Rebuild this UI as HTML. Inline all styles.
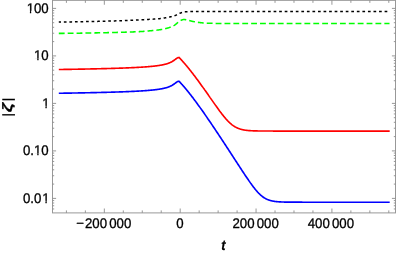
<!DOCTYPE html>
<html><head><meta charset="utf-8"><title>plot</title>
<style>html,body{margin:0;padding:0;background:#fff;overflow:hidden}svg{display:block;will-change:transform}</style>
</head><body>
<svg width="399" height="253" viewBox="0 0 399 253">
<rect width="399" height="253" fill="#fff"/>
<g fill="none" stroke-linejoin="round">
<path d="M58.80 93.27 L59.20 93.26 L59.60 93.25 L60.01 93.25 L60.41 93.24 L60.81 93.24 L61.21 93.23 L61.61 93.22 L62.02 93.22 L62.42 93.21 L62.82 93.20 L63.22 93.20 L63.62 93.19 L64.03 93.18 L64.43 93.18 L64.83 93.17 L65.23 93.16 L65.63 93.16 L66.04 93.15 L66.44 93.14 L66.84 93.14 L67.24 93.13 L67.64 93.12 L68.05 93.12 L68.45 93.11 L68.85 93.10 L69.25 93.10 L69.65 93.09 L70.06 93.08 L70.46 93.08 L70.86 93.07 L71.26 93.06 L71.66 93.06 L72.07 93.05 L72.47 93.04 L72.87 93.04 L73.27 93.03 L73.67 93.02 L74.08 93.01 L74.48 93.01 L74.88 93.00 L75.28 92.99 L75.68 92.99 L76.09 92.98 L76.49 92.97 L76.89 92.96 L77.29 92.96 L77.69 92.95 L78.10 92.94 L78.50 92.93 L78.90 92.93 L79.30 92.92 L79.70 92.91 L80.11 92.90 L80.51 92.90 L80.91 92.89 L81.31 92.88 L81.71 92.87 L82.12 92.87 L82.52 92.86 L82.92 92.85 L83.32 92.84 L83.72 92.83 L84.13 92.83 L84.53 92.82 L84.93 92.81 L85.33 92.80 L85.73 92.79 L86.14 92.79 L86.54 92.78 L86.94 92.77 L87.34 92.76 L87.74 92.75 L88.15 92.74 L88.55 92.74 L88.95 92.73 L89.35 92.72 L89.75 92.71 L90.16 92.70 L90.56 92.69 L90.96 92.69 L91.36 92.68 L91.76 92.67 L92.17 92.66 L92.57 92.65 L92.97 92.64 L93.37 92.63 L93.77 92.62 L94.18 92.61 L94.58 92.61 L94.98 92.60 L95.38 92.59 L95.78 92.58 L96.19 92.57 L96.59 92.56 L96.99 92.55 L97.39 92.54 L97.79 92.53 L98.20 92.52 L98.60 92.51 L99.00 92.50 L99.40 92.49 L99.80 92.48 L100.21 92.47 L100.61 92.46 L101.01 92.45 L101.41 92.44 L101.81 92.43 L102.22 92.42 L102.62 92.41 L103.02 92.40 L103.42 92.39 L103.82 92.38 L104.23 92.37 L104.63 92.36 L105.03 92.35 L105.43 92.34 L105.83 92.33 L106.24 92.32 L106.64 92.31 L107.04 92.30 L107.44 92.29 L107.84 92.28 L108.25 92.27 L108.65 92.25 L109.05 92.24 L109.45 92.23 L109.85 92.22 L110.26 92.21 L110.66 92.20 L111.06 92.19 L111.46 92.17 L111.86 92.16 L112.27 92.15 L112.67 92.14 L113.07 92.13 L113.47 92.11 L113.87 92.10 L114.28 92.09 L114.68 92.08 L115.08 92.06 L115.48 92.05 L115.88 92.04 L116.29 92.03 L116.69 92.01 L117.09 92.00 L117.49 91.99 L117.89 91.97 L118.30 91.96 L118.70 91.95 L119.10 91.93 L119.50 91.92 L119.91 91.91 L120.31 91.89 L120.71 91.88 L121.11 91.86 L121.51 91.85 L121.92 91.84 L122.32 91.82 L122.72 91.81 L123.12 91.79 L123.52 91.78 L123.93 91.76 L124.33 91.75 L124.73 91.73 L125.13 91.71 L125.53 91.70 L125.94 91.68 L126.34 91.67 L126.74 91.65 L127.14 91.63 L127.54 91.62 L127.95 91.60 L128.35 91.58 L128.75 91.57 L129.15 91.55 L129.55 91.53 L129.96 91.52 L130.36 91.50 L130.76 91.48 L131.16 91.46 L131.56 91.44 L131.97 91.42 L132.37 91.41 L132.77 91.39 L133.17 91.37 L133.57 91.35 L133.98 91.33 L134.38 91.31 L134.78 91.29 L135.18 91.27 L135.58 91.25 L135.99 91.23 L136.39 91.21 L136.79 91.18 L137.19 91.16 L137.59 91.14 L138.00 91.12 L138.40 91.09 L138.80 91.07 L139.20 91.05 L139.60 91.03 L140.01 91.00 L140.41 90.98 L140.81 90.95 L141.21 90.93 L141.61 90.90 L142.02 90.88 L142.42 90.85 L142.82 90.82 L143.22 90.80 L143.62 90.77 L144.03 90.74 L144.43 90.71 L144.83 90.69 L145.23 90.66 L145.63 90.63 L146.04 90.60 L146.44 90.57 L146.84 90.53 L147.24 90.50 L147.64 90.47 L148.05 90.44 L148.45 90.40 L148.85 90.37 L149.25 90.34 L149.65 90.30 L150.06 90.26 L150.46 90.23 L150.86 90.19 L151.26 90.15 L151.66 90.11 L152.07 90.07 L152.47 90.03 L152.87 89.99 L153.27 89.95 L153.67 89.90 L154.08 89.86 L154.48 89.81 L154.88 89.77 L155.28 89.72 L155.68 89.67 L156.09 89.62 L156.49 89.57 L156.89 89.52 L157.29 89.46 L157.69 89.41 L158.10 89.35 L158.50 89.29 L158.90 89.23 L159.30 89.17 L159.70 89.10 L160.11 89.04 L160.51 88.97 L160.91 88.90 L161.31 88.83 L161.71 88.75 L162.12 88.68 L162.52 88.60 L162.92 88.51 L163.32 88.43 L163.72 88.34 L164.13 88.25 L164.53 88.15 L164.93 88.05 L165.33 87.95 L165.73 87.84 L166.14 87.73 L166.54 87.62 L166.94 87.49 L167.34 87.37 L167.74 87.23 L168.15 87.10 L168.55 86.95 L168.95 86.80 L169.35 86.64 L169.75 86.47 L170.16 86.30 L170.56 86.11 L170.96 85.92 L171.36 85.71 L171.76 85.50 L172.17 85.27 L172.57 85.03 L172.97 84.78 L173.37 84.52 L173.77 84.25 L174.18 83.96 L174.58 83.67 L174.98 83.37 L175.38 83.07 L175.78 82.76 L176.19 82.46 L176.59 82.18 L176.99 81.91 L177.39 81.67 L177.79 81.48 L178.20 81.33 L178.60 81.23 L179.00 81.20 L179.35 81.57 L179.70 81.94 L180.06 82.32 L180.41 82.70 L180.76 83.08 L181.11 83.47 L181.46 83.85 L181.81 84.25 L182.17 84.64 L182.52 85.04 L182.87 85.44 L183.22 85.84 L183.57 86.25 L183.92 86.65 L184.28 87.06 L184.63 87.48 L184.98 87.89 L185.33 88.31 L185.68 88.73 L186.04 89.15 L186.39 89.58 L186.74 90.01 L187.09 90.44 L187.44 90.87 L187.79 91.30 L188.15 91.74 L188.50 92.18 L188.85 92.62 L189.20 93.06 L189.55 93.51 L189.90 93.95 L190.26 94.40 L190.61 94.85 L190.96 95.31 L191.31 95.76 L191.66 96.22 L192.01 96.67 L192.37 97.13 L192.72 97.59 L193.07 98.06 L193.42 98.52 L193.77 98.99 L194.13 99.45 L194.48 99.92 L194.83 100.39 L195.18 100.87 L195.53 101.34 L195.88 101.82 L196.24 102.29 L196.59 102.77 L196.94 103.25 L197.29 103.73 L197.64 104.21 L197.99 104.70 L198.35 105.18 L198.70 105.67 L199.05 106.15 L199.40 106.64 L199.75 107.13 L200.11 107.62 L200.46 108.11 L200.81 108.61 L201.16 109.10 L201.51 109.60 L201.86 110.09 L202.22 110.59 L202.57 111.09 L202.92 111.59 L203.27 112.09 L203.62 112.59 L203.97 113.09 L204.33 113.59 L204.68 114.10 L205.03 114.60 L205.38 115.11 L205.73 115.62 L206.08 116.12 L206.44 116.63 L206.79 117.14 L207.14 117.65 L207.49 118.16 L207.84 118.68 L208.20 119.19 L208.55 119.70 L208.90 120.22 L209.25 120.73 L209.60 121.25 L209.95 121.76 L210.31 122.28 L210.66 122.80 L211.01 123.32 L211.36 123.84 L211.71 124.36 L212.06 124.88 L212.42 125.40 L212.77 125.92 L213.12 126.44 L213.47 126.96 L213.82 127.49 L214.18 128.01 L214.53 128.54 L214.88 129.06 L215.23 129.59 L215.58 130.11 L215.93 130.64 L216.29 131.17 L216.64 131.69 L216.99 132.22 L217.34 132.75 L217.69 133.28 L218.04 133.81 L218.40 134.34 L218.75 134.87 L219.10 135.40 L219.45 135.93 L219.80 136.46 L220.16 137.00 L220.51 137.53 L220.86 138.06 L221.21 138.60 L221.56 139.13 L221.91 139.66 L222.27 140.20 L222.62 140.73 L222.97 141.27 L223.32 141.80 L223.67 142.34 L224.02 142.88 L224.38 143.41 L224.73 143.95 L225.08 144.49 L225.43 145.02 L225.78 145.56 L226.13 146.10 L226.49 146.64 L226.84 147.18 L227.19 147.71 L227.54 148.25 L227.89 148.79 L228.25 149.33 L228.60 149.87 L228.95 150.41 L229.30 150.95 L229.65 151.49 L230.00 152.03 L230.36 152.57 L230.71 153.11 L231.06 153.65 L231.41 154.19 L231.76 154.74 L232.11 155.28 L232.47 155.82 L232.82 156.36 L233.17 156.90 L233.52 157.44 L233.87 157.98 L234.23 158.52 L234.58 159.07 L234.93 159.61 L235.28 160.15 L235.63 160.69 L235.98 161.23 L236.34 161.77 L236.69 162.31 L237.04 162.85 L237.39 163.40 L237.74 163.94 L238.09 164.48 L238.45 165.02 L238.80 165.56 L239.15 166.10 L239.50 166.63 L239.85 167.17 L240.21 167.71 L240.56 168.25 L240.91 168.79 L241.26 169.32 L241.61 169.86 L241.96 170.40 L242.32 170.93 L242.67 171.46 L243.02 172.00 L243.37 172.53 L243.72 173.06 L244.07 173.59 L244.43 174.12 L244.78 174.65 L245.13 175.18 L245.48 175.70 L245.83 176.23 L246.18 176.75 L246.54 177.27 L246.89 177.79 L247.24 178.31 L247.59 178.82 L247.94 179.34 L248.30 179.85 L248.65 180.36 L249.00 180.87 L249.35 181.37 L249.70 181.87 L250.05 182.37 L250.41 182.87 L250.76 183.36 L251.11 183.85 L251.46 184.33 L251.81 184.81 L252.16 185.29 L252.52 185.76 L252.87 186.23 L253.22 186.70 L253.57 187.16 L253.92 187.61 L254.28 188.06 L254.63 188.50 L254.98 188.94 L255.33 189.38 L255.68 189.80 L256.03 190.22 L256.39 190.63 L256.74 191.04 L257.09 191.44 L257.44 191.83 L257.79 192.22 L258.14 192.59 L258.50 192.96 L258.85 193.33 L259.20 193.68 L259.55 194.02 L259.90 194.36 L260.25 194.69 L260.61 195.01 L260.96 195.32 L261.31 195.62 L261.66 195.91 L262.01 196.20 L262.37 196.47 L262.72 196.74 L263.07 196.99 L263.42 197.24 L263.77 197.48 L264.12 197.71 L264.48 197.94 L264.83 198.15 L265.18 198.35 L265.53 198.55 L265.88 198.74 L266.23 198.92 L266.59 199.09 L266.94 199.26 L267.29 199.42 L267.64 199.57 L267.99 199.71 L268.35 199.85 L268.70 199.98 L269.05 200.10 L269.40 200.22 L269.75 200.33 L270.10 200.44 L270.46 200.54 L270.81 200.63 L271.16 200.72 L271.51 200.81 L271.86 200.89 L272.21 200.97 L272.57 201.04 L272.92 201.11 L273.27 201.17 L273.62 201.23 L273.97 201.29 L274.33 201.35 L274.68 201.40 L275.03 201.45 L275.38 201.49 L275.73 201.53 L276.08 201.57 L276.44 201.61 L276.79 201.65 L277.14 201.68 L277.49 201.71 L277.84 201.74 L278.19 201.77 L278.55 201.80 L278.90 201.82 L279.25 201.85 L279.60 201.87 L279.95 201.89 L280.30 201.91 L280.66 201.93 L281.01 201.94 L281.36 201.96 L281.71 201.97 L282.06 201.99 L282.42 202.00 L282.77 202.01 L283.12 202.02 L283.47 202.04 L283.82 202.05 L284.17 202.06 L284.53 202.06 L284.88 202.07 L285.23 202.08 L285.58 202.09 L285.93 202.10 L286.28 202.10 L286.64 202.11 L286.99 202.11 L287.34 202.12 L287.69 202.12 L288.04 202.13 L288.40 202.13 L288.75 202.14 L289.10 202.14 L289.45 202.15 L289.80 202.15 L290.15 202.15 L290.51 202.15 L290.86 202.16 L291.21 202.16 L291.56 202.16 L291.91 202.17 L292.26 202.17 L292.62 202.17 L292.97 202.17 L293.32 202.17 L293.67 202.17 L294.02 202.18 L294.37 202.18 L294.73 202.18 L295.08 202.18 L295.43 202.18 L295.78 202.18 L296.13 202.18 L296.49 202.19 L296.84 202.19 L297.19 202.19 L297.54 202.19 L297.89 202.19 L298.24 202.19 L298.60 202.19 L298.95 202.19 L299.30 202.19 L299.65 202.19 L300.00 202.19 L300.35 202.19 L300.71 202.19 L301.06 202.19 L301.41 202.19 L301.76 202.19 L302.11 202.19 L302.47 202.20 L302.82 202.20 L303.17 202.20 L303.52 202.20 L303.87 202.20 L304.22 202.20 L304.58 202.20 L304.93 202.20 L305.28 202.20 L305.63 202.20 L305.98 202.20 L306.33 202.20 L306.69 202.20 L307.04 202.20 L307.39 202.20 L307.74 202.20 L308.09 202.20 L308.45 202.20 L308.80 202.20 L309.15 202.20 L309.50 202.20 L309.85 202.20 L310.20 202.20 L310.56 202.20 L310.91 202.20 L311.26 202.20 L311.61 202.20 L311.96 202.20 L312.31 202.20 L312.67 202.20 L313.02 202.20 L313.37 202.20 L313.72 202.20 L314.07 202.20 L314.42 202.20 L314.78 202.20 L315.13 202.20 L315.48 202.20 L315.83 202.20 L316.18 202.20 L316.54 202.20 L316.89 202.20 L317.24 202.20 L317.59 202.20 L317.94 202.20 L318.29 202.20 L318.65 202.20 L319.00 202.20 L319.35 202.20 L319.70 202.20 L320.05 202.20 L320.40 202.20 L320.76 202.20 L321.11 202.20 L321.46 202.20 L321.81 202.20 L322.16 202.20 L322.52 202.20 L322.87 202.20 L323.22 202.20 L323.57 202.20 L323.92 202.20 L324.27 202.20 L324.63 202.20 L324.98 202.20 L325.33 202.20 L325.68 202.20 L326.03 202.20 L326.38 202.20 L326.74 202.20 L327.09 202.20 L327.44 202.20 L327.79 202.20 L328.14 202.20 L328.49 202.20 L328.85 202.20 L329.20 202.20 L329.55 202.20 L329.90 202.20 L330.25 202.20 L330.61 202.20 L330.96 202.20 L331.31 202.20 L331.66 202.20 L332.01 202.20 L332.36 202.20 L332.72 202.20 L333.07 202.20 L333.42 202.20 L333.77 202.20 L334.12 202.20 L334.47 202.20 L334.83 202.20 L335.18 202.20 L335.53 202.20 L335.88 202.20 L336.23 202.20 L336.59 202.20 L336.94 202.20 L337.29 202.20 L337.64 202.20 L337.99 202.20 L338.34 202.20 L338.70 202.20 L339.05 202.20 L339.40 202.20 L339.75 202.20 L340.10 202.20 L340.45 202.20 L340.81 202.20 L341.16 202.20 L341.51 202.20 L341.86 202.20 L342.21 202.20 L342.57 202.20 L342.92 202.20 L343.27 202.20 L343.62 202.20 L343.97 202.20 L344.32 202.20 L344.68 202.20 L345.03 202.20 L345.38 202.20 L345.73 202.20 L346.08 202.20 L346.43 202.20 L346.79 202.20 L347.14 202.20 L347.49 202.20 L347.84 202.20 L348.19 202.20 L348.54 202.20 L348.90 202.20 L349.25 202.20 L349.60 202.20 L349.95 202.20 L350.30 202.20 L350.66 202.20 L351.01 202.20 L351.36 202.20 L351.71 202.20 L352.06 202.20 L352.41 202.20 L352.77 202.20 L353.12 202.20 L353.47 202.20 L353.82 202.20 L354.17 202.20 L354.52 202.20 L354.88 202.20 L355.23 202.20 L355.58 202.20 L355.93 202.20 L356.28 202.20 L356.64 202.20 L356.99 202.20 L357.34 202.20 L357.69 202.20 L358.04 202.20 L358.39 202.20 L358.75 202.20 L359.10 202.20 L359.45 202.20 L359.80 202.20 L360.15 202.20 L360.50 202.20 L360.86 202.20 L361.21 202.20 L361.56 202.20 L361.91 202.20 L362.26 202.20 L362.62 202.20 L362.97 202.20 L363.32 202.20 L363.67 202.20 L364.02 202.20 L364.37 202.20 L364.73 202.20 L365.08 202.20 L365.43 202.20 L365.78 202.20 L366.13 202.20 L366.48 202.20 L366.84 202.20 L367.19 202.20 L367.54 202.20 L367.89 202.20 L368.24 202.20 L368.59 202.20 L368.95 202.20 L369.30 202.20 L369.65 202.20 L370.00 202.20 L370.35 202.20 L370.71 202.20 L371.06 202.20 L371.41 202.20 L371.76 202.20 L372.11 202.20 L372.46 202.20 L372.82 202.20 L373.17 202.20 L373.52 202.20 L373.87 202.20 L374.22 202.20 L374.57 202.20 L374.93 202.20 L375.28 202.20 L375.63 202.20 L375.98 202.20 L376.33 202.20 L376.69 202.20 L377.04 202.20 L377.39 202.20 L377.74 202.20 L378.09 202.20 L378.44 202.20 L378.80 202.20 L379.15 202.20 L379.50 202.20 L379.85 202.20 L380.20 202.20 L380.55 202.20 L380.91 202.20 L381.26 202.20 L381.61 202.20 L381.96 202.20 L382.31 202.20 L382.66 202.20 L383.02 202.20 L383.37 202.20 L383.72 202.20 L384.07 202.20 L384.42 202.20 L384.78 202.20 L385.13 202.20 L385.48 202.20 L385.83 202.20 L386.18 202.20 L386.53 202.20 L386.89 202.20 L387.24 202.20 L387.59 202.20 L387.94 202.20 L388.29 202.20 L388.64 202.20 L389.00 202.20 L389.35 202.20 L389.70 202.20" stroke="#0000ff" stroke-width="1.65"/>
<path d="M58.80 69.52 L59.20 69.51 L59.60 69.50 L60.01 69.50 L60.41 69.49 L60.81 69.49 L61.21 69.48 L61.61 69.47 L62.02 69.47 L62.42 69.46 L62.82 69.45 L63.22 69.45 L63.62 69.44 L64.03 69.43 L64.43 69.43 L64.83 69.42 L65.23 69.41 L65.63 69.41 L66.04 69.40 L66.44 69.39 L66.84 69.39 L67.24 69.38 L67.64 69.37 L68.05 69.37 L68.45 69.36 L68.85 69.35 L69.25 69.35 L69.65 69.34 L70.06 69.33 L70.46 69.33 L70.86 69.32 L71.26 69.31 L71.66 69.31 L72.07 69.30 L72.47 69.29 L72.87 69.29 L73.27 69.28 L73.67 69.27 L74.08 69.26 L74.48 69.26 L74.88 69.25 L75.28 69.24 L75.68 69.24 L76.09 69.23 L76.49 69.22 L76.89 69.21 L77.29 69.21 L77.69 69.20 L78.10 69.19 L78.50 69.18 L78.90 69.18 L79.30 69.17 L79.70 69.16 L80.11 69.15 L80.51 69.15 L80.91 69.14 L81.31 69.13 L81.71 69.12 L82.12 69.12 L82.52 69.11 L82.92 69.10 L83.32 69.09 L83.72 69.08 L84.13 69.08 L84.53 69.07 L84.93 69.06 L85.33 69.05 L85.73 69.04 L86.14 69.04 L86.54 69.03 L86.94 69.02 L87.34 69.01 L87.74 69.00 L88.15 68.99 L88.55 68.99 L88.95 68.98 L89.35 68.97 L89.75 68.96 L90.16 68.95 L90.56 68.94 L90.96 68.94 L91.36 68.93 L91.76 68.92 L92.17 68.91 L92.57 68.90 L92.97 68.89 L93.37 68.88 L93.77 68.87 L94.18 68.86 L94.58 68.86 L94.98 68.85 L95.38 68.84 L95.78 68.83 L96.19 68.82 L96.59 68.81 L96.99 68.80 L97.39 68.79 L97.79 68.78 L98.20 68.77 L98.60 68.76 L99.00 68.75 L99.40 68.74 L99.80 68.73 L100.21 68.72 L100.61 68.71 L101.01 68.70 L101.41 68.69 L101.81 68.68 L102.22 68.67 L102.62 68.66 L103.02 68.65 L103.42 68.64 L103.82 68.63 L104.23 68.62 L104.63 68.61 L105.03 68.60 L105.43 68.59 L105.83 68.58 L106.24 68.57 L106.64 68.56 L107.04 68.55 L107.44 68.54 L107.84 68.53 L108.25 68.52 L108.65 68.50 L109.05 68.49 L109.45 68.48 L109.85 68.47 L110.26 68.46 L110.66 68.45 L111.06 68.44 L111.46 68.42 L111.86 68.41 L112.27 68.40 L112.67 68.39 L113.07 68.38 L113.47 68.36 L113.87 68.35 L114.28 68.34 L114.68 68.33 L115.08 68.31 L115.48 68.30 L115.88 68.29 L116.29 68.28 L116.69 68.26 L117.09 68.25 L117.49 68.24 L117.89 68.22 L118.30 68.21 L118.70 68.20 L119.10 68.18 L119.50 68.17 L119.91 68.16 L120.31 68.14 L120.71 68.13 L121.11 68.11 L121.51 68.10 L121.92 68.09 L122.32 68.07 L122.72 68.06 L123.12 68.04 L123.52 68.03 L123.93 68.01 L124.33 68.00 L124.73 67.98 L125.13 67.96 L125.53 67.95 L125.94 67.93 L126.34 67.92 L126.74 67.90 L127.14 67.88 L127.54 67.87 L127.95 67.85 L128.35 67.83 L128.75 67.82 L129.15 67.80 L129.55 67.78 L129.96 67.77 L130.36 67.75 L130.76 67.73 L131.16 67.71 L131.56 67.69 L131.97 67.67 L132.37 67.66 L132.77 67.64 L133.17 67.62 L133.57 67.60 L133.98 67.58 L134.38 67.56 L134.78 67.54 L135.18 67.52 L135.58 67.50 L135.99 67.48 L136.39 67.46 L136.79 67.43 L137.19 67.41 L137.59 67.39 L138.00 67.37 L138.40 67.34 L138.80 67.32 L139.20 67.30 L139.60 67.28 L140.01 67.25 L140.41 67.23 L140.81 67.20 L141.21 67.18 L141.61 67.15 L142.02 67.13 L142.42 67.10 L142.82 67.07 L143.22 67.05 L143.62 67.02 L144.03 66.99 L144.43 66.96 L144.83 66.94 L145.23 66.91 L145.63 66.88 L146.04 66.85 L146.44 66.82 L146.84 66.78 L147.24 66.75 L147.64 66.72 L148.05 66.69 L148.45 66.65 L148.85 66.62 L149.25 66.59 L149.65 66.55 L150.06 66.51 L150.46 66.48 L150.86 66.44 L151.26 66.40 L151.66 66.36 L152.07 66.32 L152.47 66.28 L152.87 66.24 L153.27 66.20 L153.67 66.15 L154.08 66.11 L154.48 66.06 L154.88 66.02 L155.28 65.97 L155.68 65.92 L156.09 65.87 L156.49 65.82 L156.89 65.77 L157.29 65.71 L157.69 65.66 L158.10 65.60 L158.50 65.54 L158.90 65.48 L159.30 65.42 L159.70 65.35 L160.11 65.29 L160.51 65.22 L160.91 65.15 L161.31 65.08 L161.71 65.00 L162.12 64.93 L162.52 64.85 L162.92 64.76 L163.32 64.68 L163.72 64.59 L164.13 64.50 L164.53 64.40 L164.93 64.30 L165.33 64.20 L165.73 64.09 L166.14 63.98 L166.54 63.87 L166.94 63.74 L167.34 63.62 L167.74 63.48 L168.15 63.35 L168.55 63.20 L168.95 63.05 L169.35 62.89 L169.75 62.72 L170.16 62.55 L170.56 62.36 L170.96 62.17 L171.36 61.96 L171.76 61.75 L172.17 61.52 L172.57 61.28 L172.97 61.03 L173.37 60.77 L173.77 60.50 L174.18 60.21 L174.58 59.92 L174.98 59.62 L175.38 59.32 L175.78 59.01 L176.19 58.71 L176.59 58.43 L176.99 58.16 L177.39 57.92 L177.79 57.73 L178.20 57.58 L178.60 57.48 L179.00 57.45 L179.35 57.81 L179.70 58.17 L180.06 58.54 L180.41 58.91 L180.76 59.28 L181.11 59.66 L181.46 60.04 L181.81 60.42 L182.17 60.81 L182.52 61.19 L182.87 61.59 L183.22 61.98 L183.57 62.38 L183.92 62.78 L184.28 63.18 L184.63 63.58 L184.98 63.99 L185.33 64.40 L185.68 64.82 L186.04 65.23 L186.39 65.65 L186.74 66.07 L187.09 66.49 L187.44 66.92 L187.79 67.35 L188.15 67.78 L188.50 68.21 L188.85 68.64 L189.20 69.08 L189.55 69.52 L189.90 69.96 L190.26 70.40 L190.61 70.84 L190.96 71.29 L191.31 71.74 L191.66 72.19 L192.01 72.64 L192.37 73.09 L192.72 73.55 L193.07 74.00 L193.42 74.46 L193.77 74.92 L194.13 75.39 L194.48 75.85 L194.83 76.31 L195.18 76.78 L195.53 77.25 L195.88 77.72 L196.24 78.19 L196.59 78.66 L196.94 79.14 L197.29 79.61 L197.64 80.09 L197.99 80.57 L198.35 81.05 L198.70 81.53 L199.05 82.01 L199.40 82.49 L199.75 82.97 L200.11 83.46 L200.46 83.94 L200.81 84.43 L201.16 84.92 L201.51 85.41 L201.86 85.90 L202.22 86.39 L202.57 86.88 L202.92 87.37 L203.27 87.87 L203.62 88.36 L203.97 88.86 L204.33 89.35 L204.68 89.85 L205.03 90.35 L205.38 90.84 L205.73 91.34 L206.08 91.84 L206.44 92.34 L206.79 92.84 L207.14 93.34 L207.49 93.84 L207.84 94.34 L208.20 94.84 L208.55 95.35 L208.90 95.85 L209.25 96.35 L209.60 96.85 L209.95 97.36 L210.31 97.86 L210.66 98.36 L211.01 98.86 L211.36 99.37 L211.71 99.87 L212.06 100.37 L212.42 100.87 L212.77 101.37 L213.12 101.87 L213.47 102.38 L213.82 102.87 L214.18 103.37 L214.53 103.87 L214.88 104.37 L215.23 104.87 L215.58 105.36 L215.93 105.86 L216.29 106.35 L216.64 106.84 L216.99 107.33 L217.34 107.82 L217.69 108.31 L218.04 108.79 L218.40 109.28 L218.75 109.76 L219.10 110.24 L219.45 110.71 L219.80 111.19 L220.16 111.66 L220.51 112.13 L220.86 112.59 L221.21 113.06 L221.56 113.52 L221.91 113.97 L222.27 114.42 L222.62 114.87 L222.97 115.32 L223.32 115.76 L223.67 116.19 L224.02 116.62 L224.38 117.05 L224.73 117.47 L225.08 117.89 L225.43 118.30 L225.78 118.70 L226.13 119.10 L226.49 119.49 L226.84 119.88 L227.19 120.26 L227.54 120.63 L227.89 121.00 L228.25 121.36 L228.60 121.71 L228.95 122.06 L229.30 122.40 L229.65 122.73 L230.00 123.05 L230.36 123.37 L230.71 123.68 L231.06 123.98 L231.41 124.27 L231.76 124.55 L232.11 124.83 L232.47 125.09 L232.82 125.35 L233.17 125.60 L233.52 125.85 L233.87 126.08 L234.23 126.31 L234.58 126.53 L234.93 126.74 L235.28 126.95 L235.63 127.14 L235.98 127.33 L236.34 127.51 L236.69 127.69 L237.04 127.85 L237.39 128.01 L237.74 128.17 L238.09 128.31 L238.45 128.46 L238.80 128.59 L239.15 128.72 L239.50 128.84 L239.85 128.96 L240.21 129.07 L240.56 129.17 L240.91 129.28 L241.26 129.37 L241.61 129.46 L241.96 129.55 L242.32 129.63 L242.67 129.71 L243.02 129.78 L243.37 129.85 L243.72 129.92 L244.07 129.98 L244.43 130.04 L244.78 130.10 L245.13 130.16 L245.48 130.21 L245.83 130.25 L246.18 130.30 L246.54 130.34 L246.89 130.38 L247.24 130.42 L247.59 130.46 L247.94 130.49 L248.30 130.52 L248.65 130.56 L249.00 130.58 L249.35 130.61 L249.70 130.64 L250.05 130.66 L250.41 130.68 L250.76 130.71 L251.11 130.73 L251.46 130.74 L251.81 130.76 L252.16 130.78 L252.52 130.80 L252.87 130.81 L253.22 130.83 L253.57 130.84 L253.92 130.85 L254.28 130.86 L254.63 130.87 L254.98 130.88 L255.33 130.89 L255.68 130.90 L256.03 130.91 L256.39 130.92 L256.74 130.93 L257.09 130.94 L257.44 130.94 L257.79 130.95 L258.14 130.96 L258.50 130.96 L258.85 130.97 L259.20 130.97 L259.55 130.98 L259.90 130.98 L260.25 130.99 L260.61 130.99 L260.96 130.99 L261.31 131.00 L261.66 131.00 L262.01 131.00 L262.37 131.01 L262.72 131.01 L263.07 131.01 L263.42 131.01 L263.77 131.02 L264.12 131.02 L264.48 131.02 L264.83 131.02 L265.18 131.02 L265.53 131.03 L265.88 131.03 L266.23 131.03 L266.59 131.03 L266.94 131.03 L267.29 131.03 L267.64 131.03 L267.99 131.04 L268.35 131.04 L268.70 131.04 L269.05 131.04 L269.40 131.04 L269.75 131.04 L270.10 131.04 L270.46 131.04 L270.81 131.04 L271.16 131.04 L271.51 131.04 L271.86 131.04 L272.21 131.04 L272.57 131.04 L272.92 131.05 L273.27 131.05 L273.62 131.05 L273.97 131.05 L274.33 131.05 L274.68 131.05 L275.03 131.05 L275.38 131.05 L275.73 131.05 L276.08 131.05 L276.44 131.05 L276.79 131.05 L277.14 131.05 L277.49 131.05 L277.84 131.05 L278.19 131.05 L278.55 131.05 L278.90 131.05 L279.25 131.05 L279.60 131.05 L279.95 131.05 L280.30 131.05 L280.66 131.05 L281.01 131.05 L281.36 131.05 L281.71 131.05 L282.06 131.05 L282.42 131.05 L282.77 131.05 L283.12 131.05 L283.47 131.05 L283.82 131.05 L284.17 131.05 L284.53 131.05 L284.88 131.05 L285.23 131.05 L285.58 131.05 L285.93 131.05 L286.28 131.05 L286.64 131.05 L286.99 131.05 L287.34 131.05 L287.69 131.05 L288.04 131.05 L288.40 131.05 L288.75 131.05 L289.10 131.05 L289.45 131.05 L289.80 131.05 L290.15 131.05 L290.51 131.05 L290.86 131.05 L291.21 131.05 L291.56 131.05 L291.91 131.05 L292.26 131.05 L292.62 131.05 L292.97 131.05 L293.32 131.05 L293.67 131.05 L294.02 131.05 L294.37 131.05 L294.73 131.05 L295.08 131.05 L295.43 131.05 L295.78 131.05 L296.13 131.05 L296.49 131.05 L296.84 131.05 L297.19 131.05 L297.54 131.05 L297.89 131.05 L298.24 131.05 L298.60 131.05 L298.95 131.05 L299.30 131.05 L299.65 131.05 L300.00 131.05 L300.35 131.05 L300.71 131.05 L301.06 131.05 L301.41 131.05 L301.76 131.05 L302.11 131.05 L302.47 131.05 L302.82 131.05 L303.17 131.05 L303.52 131.05 L303.87 131.05 L304.22 131.05 L304.58 131.05 L304.93 131.05 L305.28 131.05 L305.63 131.05 L305.98 131.05 L306.33 131.05 L306.69 131.05 L307.04 131.05 L307.39 131.05 L307.74 131.05 L308.09 131.05 L308.45 131.05 L308.80 131.05 L309.15 131.05 L309.50 131.05 L309.85 131.05 L310.20 131.05 L310.56 131.05 L310.91 131.05 L311.26 131.05 L311.61 131.05 L311.96 131.05 L312.31 131.05 L312.67 131.05 L313.02 131.05 L313.37 131.05 L313.72 131.05 L314.07 131.05 L314.42 131.05 L314.78 131.05 L315.13 131.05 L315.48 131.05 L315.83 131.05 L316.18 131.05 L316.54 131.05 L316.89 131.05 L317.24 131.05 L317.59 131.05 L317.94 131.05 L318.29 131.05 L318.65 131.05 L319.00 131.05 L319.35 131.05 L319.70 131.05 L320.05 131.05 L320.40 131.05 L320.76 131.05 L321.11 131.05 L321.46 131.05 L321.81 131.05 L322.16 131.05 L322.52 131.05 L322.87 131.05 L323.22 131.05 L323.57 131.05 L323.92 131.05 L324.27 131.05 L324.63 131.05 L324.98 131.05 L325.33 131.05 L325.68 131.05 L326.03 131.05 L326.38 131.05 L326.74 131.05 L327.09 131.05 L327.44 131.05 L327.79 131.05 L328.14 131.05 L328.49 131.05 L328.85 131.05 L329.20 131.05 L329.55 131.05 L329.90 131.05 L330.25 131.05 L330.61 131.05 L330.96 131.05 L331.31 131.05 L331.66 131.05 L332.01 131.05 L332.36 131.05 L332.72 131.05 L333.07 131.05 L333.42 131.05 L333.77 131.05 L334.12 131.05 L334.47 131.05 L334.83 131.05 L335.18 131.05 L335.53 131.05 L335.88 131.05 L336.23 131.05 L336.59 131.05 L336.94 131.05 L337.29 131.05 L337.64 131.05 L337.99 131.05 L338.34 131.05 L338.70 131.05 L339.05 131.05 L339.40 131.05 L339.75 131.05 L340.10 131.05 L340.45 131.05 L340.81 131.05 L341.16 131.05 L341.51 131.05 L341.86 131.05 L342.21 131.05 L342.57 131.05 L342.92 131.05 L343.27 131.05 L343.62 131.05 L343.97 131.05 L344.32 131.05 L344.68 131.05 L345.03 131.05 L345.38 131.05 L345.73 131.05 L346.08 131.05 L346.43 131.05 L346.79 131.05 L347.14 131.05 L347.49 131.05 L347.84 131.05 L348.19 131.05 L348.54 131.05 L348.90 131.05 L349.25 131.05 L349.60 131.05 L349.95 131.05 L350.30 131.05 L350.66 131.05 L351.01 131.05 L351.36 131.05 L351.71 131.05 L352.06 131.05 L352.41 131.05 L352.77 131.05 L353.12 131.05 L353.47 131.05 L353.82 131.05 L354.17 131.05 L354.52 131.05 L354.88 131.05 L355.23 131.05 L355.58 131.05 L355.93 131.05 L356.28 131.05 L356.64 131.05 L356.99 131.05 L357.34 131.05 L357.69 131.05 L358.04 131.05 L358.39 131.05 L358.75 131.05 L359.10 131.05 L359.45 131.05 L359.80 131.05 L360.15 131.05 L360.50 131.05 L360.86 131.05 L361.21 131.05 L361.56 131.05 L361.91 131.05 L362.26 131.05 L362.62 131.05 L362.97 131.05 L363.32 131.05 L363.67 131.05 L364.02 131.05 L364.37 131.05 L364.73 131.05 L365.08 131.05 L365.43 131.05 L365.78 131.05 L366.13 131.05 L366.48 131.05 L366.84 131.05 L367.19 131.05 L367.54 131.05 L367.89 131.05 L368.24 131.05 L368.59 131.05 L368.95 131.05 L369.30 131.05 L369.65 131.05 L370.00 131.05 L370.35 131.05 L370.71 131.05 L371.06 131.05 L371.41 131.05 L371.76 131.05 L372.11 131.05 L372.46 131.05 L372.82 131.05 L373.17 131.05 L373.52 131.05 L373.87 131.05 L374.22 131.05 L374.57 131.05 L374.93 131.05 L375.28 131.05 L375.63 131.05 L375.98 131.05 L376.33 131.05 L376.69 131.05 L377.04 131.05 L377.39 131.05 L377.74 131.05 L378.09 131.05 L378.44 131.05 L378.80 131.05 L379.15 131.05 L379.50 131.05 L379.85 131.05 L380.20 131.05 L380.55 131.05 L380.91 131.05 L381.26 131.05 L381.61 131.05 L381.96 131.05 L382.31 131.05 L382.66 131.05 L383.02 131.05 L383.37 131.05 L383.72 131.05 L384.07 131.05 L384.42 131.05 L384.78 131.05 L385.13 131.05 L385.48 131.05 L385.83 131.05 L386.18 131.05 L386.53 131.05 L386.89 131.05 L387.24 131.05 L387.59 131.05 L387.94 131.05 L388.29 131.05 L388.64 131.05 L389.00 131.05 L389.35 131.05 L389.70 131.05" stroke="#ff0000" stroke-width="1.65"/>
<path transform="translate(0 0.1)" d="M58.80 33.30 L59.27 33.30 L59.75 33.29 L60.22 33.29 L60.69 33.28 L61.17 33.28 L61.64 33.28 L62.11 33.27 L62.58 33.27 L63.06 33.26 L63.53 33.26 L64.00 33.25 L64.48 33.25 L64.95 33.25 L65.42 33.24 L65.90 33.24 L66.37 33.23 L66.84 33.23 L67.32 33.22 L67.79 33.21 L68.26 33.21 L68.74 33.20 L69.21 33.20 L69.68 33.19 L70.15 33.19 L70.63 33.18 L71.10 33.17 L71.57 33.17 L72.05 33.16 L72.52 33.16 L72.99 33.15 L73.47 33.14 L73.94 33.14 L74.41 33.13 L74.89 33.12 L75.36 33.12 L75.83 33.11 L76.30 33.10 L76.78 33.10 L77.25 33.09 L77.72 33.08 L78.20 33.08 L78.67 33.07 L79.14 33.06 L79.62 33.06 L80.09 33.05 L80.56 33.04 L81.04 33.03 L81.51 33.03 L81.98 33.02 L82.46 33.01 L82.93 33.00 L83.40 33.00 L83.87 32.99 L84.35 32.98 L84.82 32.97 L85.29 32.96 L85.77 32.96 L86.24 32.95 L86.71 32.94 L87.19 32.93 L87.66 32.92 L88.13 32.92 L88.61 32.91 L89.08 32.90 L89.55 32.89 L90.02 32.88 L90.50 32.88 L90.97 32.87 L91.44 32.86 L91.92 32.85 L92.39 32.84 L92.86 32.83 L93.34 32.82 L93.81 32.82 L94.28 32.81 L94.76 32.80 L95.23 32.79 L95.70 32.78 L96.18 32.77 L96.65 32.76 L97.12 32.75 L97.59 32.75 L98.07 32.74 L98.54 32.73 L99.01 32.72 L99.49 32.71 L99.96 32.70 L100.43 32.69 L100.91 32.68 L101.38 32.67 L101.85 32.66 L102.33 32.65 L102.80 32.64 L103.27 32.63 L103.74 32.62 L104.22 32.61 L104.69 32.60 L105.16 32.59 L105.64 32.58 L106.11 32.57 L106.58 32.56 L107.06 32.55 L107.53 32.54 L108.00 32.53 L108.48 32.51 L108.95 32.50 L109.42 32.49 L109.90 32.48 L110.37 32.47 L110.84 32.45 L111.31 32.44 L111.79 32.43 L112.26 32.42 L112.73 32.40 L113.21 32.39 L113.68 32.38 L114.15 32.37 L114.63 32.35 L115.10 32.34 L115.57 32.33 L116.05 32.31 L116.52 32.30 L116.99 32.29 L117.46 32.27 L117.94 32.26 L118.41 32.25 L118.88 32.23 L119.36 32.22 L119.83 32.20 L120.30 32.19 L120.78 32.18 L121.25 32.16 L121.72 32.15 L122.20 32.14 L122.67 32.12 L123.14 32.11 L123.62 32.10 L124.09 32.08 L124.56 32.07 L125.03 32.06 L125.51 32.04 L125.98 32.03 L126.45 32.01 L126.93 32.00 L127.40 31.99 L127.87 31.97 L128.35 31.96 L128.82 31.94 L129.29 31.93 L129.77 31.91 L130.24 31.90 L130.71 31.88 L131.18 31.87 L131.66 31.85 L132.13 31.83 L132.60 31.82 L133.08 31.80 L133.55 31.78 L134.02 31.76 L134.50 31.75 L134.97 31.73 L135.44 31.71 L135.92 31.69 L136.39 31.67 L136.86 31.65 L137.34 31.63 L137.81 31.61 L138.28 31.58 L138.75 31.56 L139.23 31.54 L139.70 31.52 L140.17 31.49 L140.65 31.47 L141.12 31.44 L141.59 31.41 L142.07 31.38 L142.54 31.34 L143.01 31.31 L143.49 31.27 L143.96 31.23 L144.43 31.20 L144.91 31.16 L145.38 31.12 L145.85 31.07 L146.32 31.03 L146.80 30.99 L147.27 30.95 L147.74 30.90 L148.22 30.86 L148.69 30.82 L149.16 30.78 L149.64 30.73 L150.11 30.69 L150.58 30.65 L151.06 30.61 L151.53 30.56 L152.00 30.52 L152.47 30.48 L152.95 30.44 L153.42 30.39 L153.89 30.35 L154.37 30.30 L154.84 30.25 L155.31 30.21 L155.79 30.16 L156.26 30.11 L156.73 30.05 L157.21 30.00 L157.68 29.94 L158.15 29.88 L158.63 29.82 L159.10 29.75 L159.57 29.69 L160.04 29.61 L160.52 29.54 L160.99 29.46 L161.46 29.38 L161.94 29.30 L162.41 29.21 L162.88 29.12 L163.36 29.03 L163.83 28.94 L164.30 28.84 L164.78 28.73 L165.25 28.62 L165.72 28.50 L166.19 28.38 L166.67 28.25 L167.14 28.12 L167.61 27.98 L168.09 27.83 L168.56 27.69 L169.03 27.53 L169.51 27.37 L169.98 27.21 L170.45 27.04 L170.93 26.86 L171.40 26.66 L171.87 26.46 L172.35 26.25 L172.82 26.02 L173.29 25.78 L173.76 25.53 L174.24 25.26 L174.71 24.95 L175.18 24.60 L175.66 24.23 L176.13 23.84 L176.60 23.44 L177.08 23.03 L177.55 22.64 L178.02 22.25 L178.50 21.89 L178.97 21.55 L179.44 21.22 L179.91 20.89 L180.39 20.57 L180.86 20.29 L181.33 20.06 L181.81 19.89 L182.28 19.73 L182.75 19.58 L183.23 19.47 L183.70 19.41 L184.17 19.41 L184.65 19.45 L185.12 19.52 L185.59 19.62 L186.07 19.71 L186.54 19.81 L187.01 19.91 L187.48 20.02 L187.96 20.14 L188.43 20.26 L188.90 20.39 L189.38 20.52 L189.85 20.64 L190.32 20.75 L190.80 20.86 L191.27 20.97 L191.74 21.08 L192.22 21.19 L192.69 21.29 L193.16 21.39 L193.63 21.49 L194.11 21.58 L194.58 21.67 L195.05 21.76 L195.53 21.85 L196.00 21.93 L196.47 22.01 L196.95 22.08 L197.42 22.16 L197.89 22.22 L198.37 22.28 L198.84 22.34 L199.31 22.40 L199.79 22.46 L200.26 22.52 L200.73 22.57 L201.20 22.62 L201.68 22.68 L202.15 22.72 L202.62 22.77 L203.10 22.81 L203.57 22.85 L204.04 22.89 L204.52 22.92 L204.99 22.95 L205.46 22.98 L205.94 23.00 L206.41 23.03 L206.88 23.05 L207.35 23.07 L207.83 23.10 L208.30 23.12 L208.77 23.14 L209.25 23.16 L209.72 23.18 L210.19 23.19 L210.67 23.21 L211.14 23.22 L211.61 23.23 L212.09 23.24 L212.56 23.25 L213.03 23.26 L213.51 23.26 L213.98 23.27 L214.45 23.28 L214.92 23.28 L215.40 23.29 L215.87 23.30 L216.34 23.30 L216.82 23.31 L217.29 23.32 L217.76 23.32 L218.24 23.33 L218.71 23.33 L219.18 23.34 L219.66 23.34 L220.13 23.35 L220.60 23.35 L221.07 23.36 L221.55 23.36 L222.02 23.36 L222.49 23.37 L222.97 23.37 L223.44 23.38 L223.91 23.38 L224.39 23.38 L224.86 23.38 L225.33 23.39 L225.81 23.39 L226.28 23.39 L226.75 23.39 L227.23 23.40 L227.70 23.40 L228.17 23.40 L228.64 23.40 L229.12 23.40 L229.59 23.40 L230.06 23.40 L230.54 23.40 L231.01 23.40 L231.48 23.40 L231.96 23.40 L232.43 23.40 L232.90 23.40 L233.38 23.40 L233.85 23.40 L234.32 23.40 L234.79 23.40 L235.27 23.40 L235.74 23.40 L236.21 23.40 L236.69 23.40 L237.16 23.40 L237.63 23.40 L238.11 23.40 L238.58 23.40 L239.05 23.40 L239.53 23.40 L240.00 23.40 L240.47 23.40 L240.95 23.40 L241.42 23.40 L241.89 23.40 L242.36 23.40 L242.84 23.40 L243.31 23.40 L243.78 23.40 L244.26 23.40 L244.73 23.40 L245.20 23.40 L245.68 23.40 L246.15 23.40 L246.62 23.40 L247.10 23.40 L247.57 23.40 L248.04 23.40 L248.51 23.40 L248.99 23.40 L249.46 23.40 L249.93 23.40 L250.41 23.40 L250.88 23.40 L251.35 23.40 L251.83 23.40 L252.30 23.40 L252.77 23.40 L253.25 23.40 L253.72 23.40 L254.19 23.40 L254.67 23.40 L255.14 23.40 L255.61 23.40 L256.08 23.40 L256.56 23.40 L257.03 23.40 L257.50 23.40 L257.98 23.40 L258.45 23.40 L258.92 23.40 L259.40 23.40 L259.87 23.40 L260.34 23.40 L260.82 23.40 L261.29 23.40 L261.76 23.40 L262.23 23.40 L262.71 23.40 L263.18 23.40 L263.65 23.40 L264.13 23.40 L264.60 23.40 L265.07 23.40 L265.55 23.40 L266.02 23.40 L266.49 23.40 L266.97 23.40 L267.44 23.40 L267.91 23.40 L268.39 23.40 L268.86 23.40 L269.33 23.40 L269.80 23.40 L270.28 23.40 L270.75 23.40 L271.22 23.40 L271.70 23.40 L272.17 23.40 L272.64 23.40 L273.12 23.40 L273.59 23.40 L274.06 23.40 L274.54 23.40 L275.01 23.40 L275.48 23.40 L275.95 23.40 L276.43 23.40 L276.90 23.40 L277.37 23.40 L277.85 23.40 L278.32 23.40 L278.79 23.40 L279.27 23.40 L279.74 23.40 L280.21 23.40 L280.69 23.40 L281.16 23.40 L281.63 23.40 L282.11 23.40 L282.58 23.40 L283.05 23.40 L283.52 23.40 L284.00 23.40 L284.47 23.40 L284.94 23.40 L285.42 23.40 L285.89 23.40 L286.36 23.40 L286.84 23.40 L287.31 23.40 L287.78 23.40 L288.26 23.40 L288.73 23.40 L289.20 23.40 L289.67 23.40 L290.15 23.40 L290.62 23.40 L291.09 23.40 L291.57 23.40 L292.04 23.40 L292.51 23.40 L292.99 23.40 L293.46 23.40 L293.93 23.40 L294.41 23.40 L294.88 23.40 L295.35 23.40 L295.83 23.40 L296.30 23.40 L296.77 23.40 L297.24 23.40 L297.72 23.40 L298.19 23.40 L298.66 23.40 L299.14 23.40 L299.61 23.40 L300.08 23.40 L300.56 23.40 L301.03 23.40 L301.50 23.40 L301.98 23.40 L302.45 23.40 L302.92 23.40 L303.39 23.40 L303.87 23.40 L304.34 23.40 L304.81 23.40 L305.29 23.40 L305.76 23.40 L306.23 23.40 L306.71 23.40 L307.18 23.40 L307.65 23.40 L308.13 23.40 L308.60 23.40 L309.07 23.40 L309.55 23.40 L310.02 23.40 L310.49 23.40 L310.96 23.40 L311.44 23.40 L311.91 23.40 L312.38 23.40 L312.86 23.40 L313.33 23.40 L313.80 23.40 L314.28 23.40 L314.75 23.40 L315.22 23.40 L315.70 23.40 L316.17 23.40 L316.64 23.40 L317.12 23.40 L317.59 23.40 L318.06 23.40 L318.53 23.40 L319.01 23.40 L319.48 23.40 L319.95 23.40 L320.43 23.40 L320.90 23.40 L321.37 23.40 L321.85 23.40 L322.32 23.40 L322.79 23.40 L323.27 23.40 L323.74 23.40 L324.21 23.40 L324.68 23.40 L325.16 23.40 L325.63 23.40 L326.10 23.40 L326.58 23.40 L327.05 23.40 L327.52 23.40 L328.00 23.40 L328.47 23.40 L328.94 23.40 L329.42 23.40 L329.89 23.40 L330.36 23.40 L330.84 23.40 L331.31 23.40 L331.78 23.40 L332.25 23.40 L332.73 23.40 L333.20 23.40 L333.67 23.40 L334.15 23.40 L334.62 23.40 L335.09 23.40 L335.57 23.40 L336.04 23.40 L336.51 23.40 L336.99 23.40 L337.46 23.40 L337.93 23.40 L338.40 23.40 L338.88 23.40 L339.35 23.40 L339.82 23.40 L340.30 23.40 L340.77 23.40 L341.24 23.40 L341.72 23.40 L342.19 23.40 L342.66 23.40 L343.14 23.40 L343.61 23.40 L344.08 23.40 L344.56 23.40 L345.03 23.40 L345.50 23.40 L345.97 23.40 L346.45 23.40 L346.92 23.40 L347.39 23.40 L347.87 23.40 L348.34 23.40 L348.81 23.40 L349.29 23.40 L349.76 23.40 L350.23 23.40 L350.71 23.40 L351.18 23.40 L351.65 23.40 L352.12 23.40 L352.60 23.40 L353.07 23.40 L353.54 23.40 L354.02 23.40 L354.49 23.40 L354.96 23.40 L355.44 23.40 L355.91 23.40 L356.38 23.40 L356.86 23.40 L357.33 23.40 L357.80 23.40 L358.28 23.40 L358.75 23.40 L359.22 23.40 L359.69 23.40 L360.17 23.40 L360.64 23.40 L361.11 23.40 L361.59 23.40 L362.06 23.40 L362.53 23.40 L363.01 23.40 L363.48 23.40 L363.95 23.40 L364.43 23.40 L364.90 23.40 L365.37 23.40 L365.84 23.40 L366.32 23.40 L366.79 23.40 L367.26 23.40 L367.74 23.40 L368.21 23.40 L368.68 23.40 L369.16 23.40 L369.63 23.40 L370.10 23.40 L370.58 23.40 L371.05 23.40 L371.52 23.40 L372.00 23.40 L372.47 23.40 L372.94 23.40 L373.41 23.40 L373.89 23.40 L374.36 23.40 L374.83 23.40 L375.31 23.40 L375.78 23.40 L376.25 23.40 L376.73 23.40 L377.20 23.40 L377.67 23.40 L378.15 23.40 L378.62 23.40 L379.09 23.40 L379.56 23.40 L380.04 23.40 L380.51 23.40 L380.98 23.40 L381.46 23.40 L381.93 23.40 L382.40 23.40 L382.88 23.40 L383.35 23.40 L383.82 23.40 L384.30 23.40 L384.77 23.40 L385.24 23.40 L385.72 23.40 L386.19 23.40 L386.66 23.40 L387.13 23.40 L387.61 23.40 L388.08 23.40 L388.55 23.40 L389.03 23.40 L389.50 23.40" stroke="#00ff00" stroke-width="1.55" stroke-dasharray="5.85 3.03"/>
<path transform="translate(0 0.12)" d="M58.80 22.00 L59.27 21.99 L59.75 21.98 L60.22 21.97 L60.69 21.97 L61.17 21.96 L61.64 21.95 L62.11 21.94 L62.59 21.93 L63.06 21.92 L63.53 21.91 L64.01 21.90 L64.48 21.90 L64.95 21.89 L65.43 21.88 L65.90 21.87 L66.37 21.86 L66.85 21.85 L67.32 21.84 L67.79 21.83 L68.27 21.82 L68.74 21.82 L69.21 21.81 L69.69 21.80 L70.16 21.79 L70.63 21.78 L71.11 21.77 L71.58 21.76 L72.05 21.75 L72.53 21.74 L73.00 21.73 L73.48 21.73 L73.95 21.72 L74.42 21.71 L74.90 21.70 L75.37 21.69 L75.84 21.68 L76.32 21.67 L76.79 21.66 L77.26 21.65 L77.74 21.64 L78.21 21.63 L78.68 21.63 L79.16 21.62 L79.63 21.61 L80.10 21.60 L80.58 21.59 L81.05 21.58 L81.52 21.57 L82.00 21.56 L82.47 21.55 L82.94 21.54 L83.42 21.53 L83.89 21.53 L84.36 21.52 L84.84 21.51 L85.31 21.50 L85.78 21.49 L86.26 21.48 L86.73 21.47 L87.20 21.46 L87.68 21.46 L88.15 21.45 L88.62 21.44 L89.10 21.43 L89.57 21.42 L90.04 21.41 L90.52 21.40 L90.99 21.39 L91.46 21.38 L91.94 21.37 L92.41 21.36 L92.88 21.36 L93.36 21.35 L93.83 21.34 L94.30 21.33 L94.78 21.32 L95.25 21.31 L95.72 21.30 L96.20 21.29 L96.67 21.28 L97.14 21.27 L97.62 21.26 L98.09 21.24 L98.56 21.23 L99.04 21.22 L99.51 21.21 L99.98 21.20 L100.46 21.19 L100.93 21.18 L101.41 21.17 L101.88 21.15 L102.35 21.14 L102.83 21.13 L103.30 21.12 L103.77 21.11 L104.25 21.09 L104.72 21.08 L105.19 21.07 L105.67 21.05 L106.14 21.04 L106.61 21.03 L107.09 21.01 L107.56 21.00 L108.03 20.99 L108.51 20.97 L108.98 20.96 L109.45 20.95 L109.93 20.93 L110.40 20.92 L110.87 20.90 L111.35 20.89 L111.82 20.87 L112.29 20.86 L112.77 20.84 L113.24 20.83 L113.71 20.81 L114.19 20.80 L114.66 20.78 L115.13 20.77 L115.61 20.75 L116.08 20.74 L116.55 20.72 L117.03 20.70 L117.50 20.69 L117.97 20.67 L118.45 20.66 L118.92 20.64 L119.39 20.62 L119.87 20.60 L120.34 20.59 L120.81 20.57 L121.29 20.55 L121.76 20.53 L122.23 20.52 L122.71 20.50 L123.18 20.48 L123.65 20.46 L124.13 20.44 L124.60 20.42 L125.07 20.40 L125.55 20.38 L126.02 20.36 L126.49 20.34 L126.97 20.32 L127.44 20.30 L127.92 20.27 L128.39 20.25 L128.86 20.23 L129.34 20.21 L129.81 20.19 L130.28 20.17 L130.76 20.14 L131.23 20.12 L131.70 20.10 L132.18 20.08 L132.65 20.05 L133.12 20.03 L133.60 20.01 L134.07 19.99 L134.54 19.96 L135.02 19.94 L135.49 19.92 L135.96 19.89 L136.44 19.87 L136.91 19.85 L137.38 19.83 L137.86 19.80 L138.33 19.78 L138.80 19.76 L139.28 19.73 L139.75 19.71 L140.22 19.69 L140.70 19.67 L141.17 19.64 L141.64 19.62 L142.12 19.60 L142.59 19.58 L143.06 19.56 L143.54 19.53 L144.01 19.51 L144.48 19.49 L144.96 19.47 L145.43 19.44 L145.90 19.42 L146.38 19.40 L146.85 19.37 L147.32 19.35 L147.80 19.32 L148.27 19.30 L148.74 19.27 L149.22 19.24 L149.69 19.22 L150.16 19.19 L150.64 19.16 L151.11 19.14 L151.58 19.11 L152.06 19.08 L152.53 19.05 L153.00 19.02 L153.48 19.00 L153.95 18.97 L154.42 18.94 L154.90 18.91 L155.37 18.88 L155.85 18.84 L156.32 18.81 L156.79 18.77 L157.27 18.74 L157.74 18.70 L158.21 18.66 L158.69 18.62 L159.16 18.58 L159.63 18.54 L160.11 18.49 L160.58 18.44 L161.05 18.38 L161.53 18.32 L162.00 18.26 L162.47 18.19 L162.95 18.11 L163.42 18.04 L163.89 17.96 L164.37 17.88 L164.84 17.80 L165.31 17.72 L165.79 17.64 L166.26 17.56 L166.73 17.47 L167.21 17.39 L167.68 17.30 L168.15 17.21 L168.63 17.12 L169.10 17.02 L169.57 16.92 L170.05 16.82 L170.52 16.71 L170.99 16.60 L171.47 16.49 L171.94 16.37 L172.41 16.24 L172.89 16.11 L173.36 15.97 L173.83 15.83 L174.31 15.68 L174.78 15.52 L175.25 15.36 L175.73 15.19 L176.20 15.00 L176.67 14.78 L177.15 14.55 L177.62 14.30 L178.09 14.05 L178.57 13.80 L179.04 13.55 L179.51 13.32 L179.99 13.10 L180.46 12.91 L180.93 12.74 L181.41 12.58 L181.88 12.42 L182.35 12.28 L182.83 12.15 L183.30 12.04 L183.78 11.95 L184.25 11.87 L184.72 11.79 L185.20 11.72 L185.67 11.66 L186.14 11.61 L186.62 11.57 L187.09 11.54 L187.56 11.52 L188.04 11.50 L188.51 11.48 L188.98 11.46 L189.46 11.44 L189.93 11.43 L190.40 11.42 L190.88 11.41 L191.35 11.40 L191.82 11.40 L192.30 11.40 L192.77 11.40 L193.24 11.40 L193.72 11.40 L194.19 11.40 L194.66 11.40 L195.14 11.40 L195.61 11.40 L196.08 11.40 L196.56 11.40 L197.03 11.40 L197.50 11.40 L197.98 11.40 L198.45 11.40 L198.92 11.40 L199.40 11.40 L199.87 11.40 L200.34 11.40 L200.82 11.40 L201.29 11.40 L201.76 11.40 L202.24 11.40 L202.71 11.40 L203.18 11.40 L203.66 11.40 L204.13 11.40 L204.60 11.40 L205.08 11.40 L205.55 11.40 L206.02 11.40 L206.50 11.40 L206.97 11.40 L207.44 11.40 L207.92 11.40 L208.39 11.40 L208.86 11.40 L209.34 11.40 L209.81 11.40 L210.28 11.40 L210.76 11.40 L211.23 11.40 L211.71 11.40 L212.18 11.40 L212.65 11.40 L213.13 11.40 L213.60 11.40 L214.07 11.40 L214.55 11.40 L215.02 11.40 L215.49 11.40 L215.97 11.40 L216.44 11.40 L216.91 11.40 L217.39 11.40 L217.86 11.40 L218.33 11.40 L218.81 11.40 L219.28 11.40 L219.75 11.40 L220.23 11.40 L220.70 11.40 L221.17 11.40 L221.65 11.40 L222.12 11.40 L222.59 11.40 L223.07 11.40 L223.54 11.40 L224.01 11.40 L224.49 11.40 L224.96 11.40 L225.43 11.40 L225.91 11.40 L226.38 11.40 L226.85 11.40 L227.33 11.40 L227.80 11.40 L228.27 11.40 L228.75 11.40 L229.22 11.40 L229.69 11.40 L230.17 11.40 L230.64 11.40 L231.11 11.40 L231.59 11.40 L232.06 11.40 L232.53 11.40 L233.01 11.40 L233.48 11.40 L233.95 11.40 L234.43 11.40 L234.90 11.40 L235.37 11.40 L235.85 11.40 L236.32 11.40 L236.79 11.40 L237.27 11.40 L237.74 11.40 L238.22 11.40 L238.69 11.40 L239.16 11.40 L239.64 11.40 L240.11 11.40 L240.58 11.40 L241.06 11.40 L241.53 11.40 L242.00 11.40 L242.48 11.40 L242.95 11.40 L243.42 11.40 L243.90 11.40 L244.37 11.40 L244.84 11.40 L245.32 11.40 L245.79 11.40 L246.26 11.40 L246.74 11.40 L247.21 11.40 L247.68 11.40 L248.16 11.40 L248.63 11.40 L249.10 11.40 L249.58 11.40 L250.05 11.40 L250.52 11.40 L251.00 11.40 L251.47 11.40 L251.94 11.40 L252.42 11.40 L252.89 11.40 L253.36 11.40 L253.84 11.40 L254.31 11.40 L254.78 11.40 L255.26 11.40 L255.73 11.40 L256.20 11.40 L256.68 11.40 L257.15 11.40 L257.62 11.40 L258.10 11.40 L258.57 11.40 L259.04 11.40 L259.52 11.40 L259.99 11.40 L260.46 11.40 L260.94 11.40 L261.41 11.40 L261.88 11.40 L262.36 11.40 L262.83 11.40 L263.30 11.40 L263.78 11.40 L264.25 11.40 L264.72 11.40 L265.20 11.40 L265.67 11.40 L266.15 11.40 L266.62 11.40 L267.09 11.40 L267.57 11.40 L268.04 11.40 L268.51 11.40 L268.99 11.40 L269.46 11.40 L269.93 11.40 L270.41 11.40 L270.88 11.40 L271.35 11.40 L271.83 11.40 L272.30 11.40 L272.77 11.40 L273.25 11.40 L273.72 11.40 L274.19 11.40 L274.67 11.40 L275.14 11.40 L275.61 11.40 L276.09 11.40 L276.56 11.40 L277.03 11.40 L277.51 11.40 L277.98 11.40 L278.45 11.40 L278.93 11.40 L279.40 11.40 L279.87 11.40 L280.35 11.40 L280.82 11.40 L281.29 11.40 L281.77 11.40 L282.24 11.40 L282.71 11.40 L283.19 11.40 L283.66 11.40 L284.13 11.40 L284.61 11.40 L285.08 11.40 L285.55 11.40 L286.03 11.40 L286.50 11.40 L286.97 11.40 L287.45 11.40 L287.92 11.40 L288.39 11.40 L288.87 11.40 L289.34 11.40 L289.81 11.40 L290.29 11.40 L290.76 11.40 L291.23 11.40 L291.71 11.40 L292.18 11.40 L292.65 11.40 L293.13 11.40 L293.60 11.40 L294.08 11.40 L294.55 11.40 L295.02 11.40 L295.50 11.40 L295.97 11.40 L296.44 11.40 L296.92 11.40 L297.39 11.40 L297.86 11.40 L298.34 11.40 L298.81 11.40 L299.28 11.40 L299.76 11.40 L300.23 11.40 L300.70 11.40 L301.18 11.40 L301.65 11.40 L302.12 11.40 L302.60 11.40 L303.07 11.40 L303.54 11.40 L304.02 11.40 L304.49 11.40 L304.96 11.40 L305.44 11.40 L305.91 11.40 L306.38 11.40 L306.86 11.40 L307.33 11.40 L307.80 11.40 L308.28 11.40 L308.75 11.40 L309.22 11.40 L309.70 11.40 L310.17 11.40 L310.64 11.40 L311.12 11.40 L311.59 11.40 L312.06 11.40 L312.54 11.40 L313.01 11.40 L313.48 11.40 L313.96 11.40 L314.43 11.40 L314.90 11.40 L315.38 11.40 L315.85 11.40 L316.32 11.40 L316.80 11.40 L317.27 11.40 L317.74 11.40 L318.22 11.40 L318.69 11.40 L319.16 11.40 L319.64 11.40 L320.11 11.40 L320.58 11.40 L321.06 11.40 L321.53 11.40 L322.01 11.40 L322.48 11.40 L322.95 11.40 L323.43 11.40 L323.90 11.40 L324.37 11.40 L324.85 11.40 L325.32 11.40 L325.79 11.40 L326.27 11.40 L326.74 11.40 L327.21 11.40 L327.69 11.40 L328.16 11.40 L328.63 11.40 L329.11 11.40 L329.58 11.40 L330.05 11.40 L330.53 11.40 L331.00 11.40 L331.47 11.40 L331.95 11.40 L332.42 11.40 L332.89 11.40 L333.37 11.40 L333.84 11.40 L334.31 11.40 L334.79 11.40 L335.26 11.40 L335.73 11.40 L336.21 11.40 L336.68 11.40 L337.15 11.40 L337.63 11.40 L338.10 11.40 L338.57 11.40 L339.05 11.40 L339.52 11.40 L339.99 11.40 L340.47 11.40 L340.94 11.40 L341.41 11.40 L341.89 11.40 L342.36 11.40 L342.83 11.40 L343.31 11.40 L343.78 11.40 L344.25 11.40 L344.73 11.40 L345.20 11.40 L345.67 11.40 L346.15 11.40 L346.62 11.40 L347.09 11.40 L347.57 11.40 L348.04 11.40 L348.52 11.40 L348.99 11.40 L349.46 11.40 L349.94 11.40 L350.41 11.40 L350.88 11.40 L351.36 11.40 L351.83 11.40 L352.30 11.40 L352.78 11.40 L353.25 11.40 L353.72 11.40 L354.20 11.40 L354.67 11.40 L355.14 11.40 L355.62 11.40 L356.09 11.40 L356.56 11.40 L357.04 11.40 L357.51 11.40 L357.98 11.40 L358.46 11.40 L358.93 11.40 L359.40 11.40 L359.88 11.40 L360.35 11.40 L360.82 11.40 L361.30 11.40 L361.77 11.40 L362.24 11.40 L362.72 11.40 L363.19 11.40 L363.66 11.40 L364.14 11.40 L364.61 11.40 L365.08 11.40 L365.56 11.40 L366.03 11.40 L366.50 11.40 L366.98 11.40 L367.45 11.40 L367.92 11.40 L368.40 11.40 L368.87 11.40 L369.34 11.40 L369.82 11.40 L370.29 11.40 L370.76 11.40 L371.24 11.40 L371.71 11.40 L372.18 11.40 L372.66 11.40 L373.13 11.40 L373.60 11.40 L374.08 11.40 L374.55 11.40 L375.02 11.40 L375.50 11.40 L375.97 11.40 L376.45 11.40 L376.92 11.40 L377.39 11.40 L377.87 11.40 L378.34 11.40 L378.81 11.40 L379.29 11.40 L379.76 11.40 L380.23 11.40 L380.71 11.40 L381.18 11.40 L381.65 11.40 L382.13 11.40 L382.60 11.40 L383.07 11.40 L383.55 11.40 L384.02 11.40 L384.49 11.40 L384.97 11.40 L385.44 11.40 L385.91 11.40 L386.39 11.40 L386.86 11.40 L387.33 11.40 L387.81 11.40 L388.28 11.40 L388.75 11.40 L389.23 11.40 L389.70 11.40" stroke="#000000" stroke-width="1.5" stroke-dasharray="2.7 2.85" stroke-dashoffset="0.5"/>
</g>
<g stroke="#989898" stroke-width="1" fill="none" shape-rendering="auto">
<rect x="52.50" y="0.35" width="343.00" height="212.55"/>
<path d="M66.41 212.90 v-2.50 M66.41 0.35 v2.50 M85.37 212.90 v-2.50 M85.37 0.35 v2.50 M104.34 212.90 v-4.40 M104.34 0.35 v4.40 M123.30 212.90 v-2.50 M123.30 0.35 v2.50 M142.27 212.90 v-2.50 M142.27 0.35 v2.50 M161.23 212.90 v-2.50 M161.23 0.35 v2.50 M180.20 212.90 v-4.40 M180.20 0.35 v4.40 M199.16 212.90 v-2.50 M199.16 0.35 v2.50 M218.13 212.90 v-2.50 M218.13 0.35 v2.50 M237.09 212.90 v-2.50 M237.09 0.35 v2.50 M256.06 212.90 v-4.40 M256.06 0.35 v4.40 M275.02 212.90 v-2.50 M275.02 0.35 v2.50 M293.99 212.90 v-2.50 M293.99 0.35 v2.50 M312.95 212.90 v-2.50 M312.95 0.35 v2.50 M331.92 212.90 v-4.40 M331.92 0.35 v4.40 M350.88 212.90 v-2.50 M350.88 0.35 v2.50 M369.85 212.90 v-2.50 M369.85 0.35 v2.50 M388.81 212.90 v-2.50 M388.81 0.35 v2.50 M52.50 208.94 h1.70 M395.50 208.94 h-1.70 M52.50 205.76 h1.70 M395.50 205.76 h-1.70 M52.50 203.00 h1.70 M395.50 203.00 h-1.70 M52.50 200.57 h1.70 M395.50 200.57 h-1.70 M52.50 198.40 h3.60 M395.50 198.40 h-3.60 M52.50 184.10 h1.70 M395.50 184.10 h-1.70 M52.50 175.74 h1.70 M395.50 175.74 h-1.70 M52.50 169.80 h1.70 M395.50 169.80 h-1.70 M52.50 165.20 h1.70 M395.50 165.20 h-1.70 M52.50 161.44 h1.70 M395.50 161.44 h-1.70 M52.50 158.26 h1.70 M395.50 158.26 h-1.70 M52.50 155.50 h1.70 M395.50 155.50 h-1.70 M52.50 153.07 h1.70 M395.50 153.07 h-1.70 M52.50 150.90 h3.60 M395.50 150.90 h-3.60 M52.50 136.60 h1.70 M395.50 136.60 h-1.70 M52.50 128.24 h1.70 M395.50 128.24 h-1.70 M52.50 122.30 h1.70 M395.50 122.30 h-1.70 M52.50 117.70 h1.70 M395.50 117.70 h-1.70 M52.50 113.94 h1.70 M395.50 113.94 h-1.70 M52.50 110.76 h1.70 M395.50 110.76 h-1.70 M52.50 108.00 h1.70 M395.50 108.00 h-1.70 M52.50 105.57 h1.70 M395.50 105.57 h-1.70 M52.50 103.40 h3.60 M395.50 103.40 h-3.60 M52.50 89.10 h1.70 M395.50 89.10 h-1.70 M52.50 80.74 h1.70 M395.50 80.74 h-1.70 M52.50 74.80 h1.70 M395.50 74.80 h-1.70 M52.50 70.20 h1.70 M395.50 70.20 h-1.70 M52.50 66.44 h1.70 M395.50 66.44 h-1.70 M52.50 63.26 h1.70 M395.50 63.26 h-1.70 M52.50 60.50 h1.70 M395.50 60.50 h-1.70 M52.50 58.07 h1.70 M395.50 58.07 h-1.70 M52.50 55.90 h3.60 M395.50 55.90 h-3.60 M52.50 41.60 h1.70 M395.50 41.60 h-1.70 M52.50 33.24 h1.70 M395.50 33.24 h-1.70 M52.50 27.30 h1.70 M395.50 27.30 h-1.70 M52.50 22.70 h1.70 M395.50 22.70 h-1.70 M52.50 18.94 h1.70 M395.50 18.94 h-1.70 M52.50 15.76 h1.70 M395.50 15.76 h-1.70 M52.50 13.00 h1.70 M395.50 13.00 h-1.70 M52.50 10.57 h1.70 M395.50 10.57 h-1.70 M52.50 8.40 h3.60 M395.50 8.40 h-3.60" stroke-width="0.9" stroke="#8c8c8c"/>
</g>
<defs><clipPath id="c1"><path d="M-1 -11.289 H8.633 V-1.992 H4.662 V3 H3.380 V-1.992 H-1 Z"/></clipPath></defs>
<g font-family="Liberation Sans, sans-serif" font-size="13.60" fill="#000" stroke="#000" stroke-width="0.30" text-rendering="geometricPrecision">
<g transform="translate(26.63 12.80) scale(0.975 1.030)"><g transform="translate(0.00 0)"><text clip-path="url(#c1)" x="0" y="0">1</text></g><text x="7.56" y="0">00</text></g>
<g transform="translate(34.00 60.30) scale(0.975 1.030)"><g transform="translate(0.00 0)"><text clip-path="url(#c1)" x="0" y="0">1</text></g><text x="7.56" y="0">0</text></g>
<g transform="translate(41.38 107.80) scale(0.975 1.030)"><g transform="translate(0.80 0)"><text clip-path="url(#c1)" x="0" y="0">1</text></g></g>
<g transform="translate(22.94 155.30) scale(0.975 1.030)"><text x="0.00" y="0">0.</text><g transform="translate(11.34 0)"><text clip-path="url(#c1)" x="0" y="0">1</text></g><text x="18.91" y="0">0</text></g>
<g transform="translate(22.94 202.80) scale(0.975 1.030)"><text x="0.00" y="0">0.0</text><g transform="translate(19.71 0)"><text clip-path="url(#c1)" x="0" y="0">1</text></g></g>
<g transform="translate(76.36 227.90) scale(0.975 1.030)"><text x="0.00" y="0">−</text><text x="8.81" y="0">200</text><text x="33.69" y="0">000</text></g>
<g transform="translate(176.21 227.90) scale(0.975 1.030)"><text x="0.00" y="0">0</text></g>
<g transform="translate(232.47 227.90) scale(0.975 1.030)"><text x="0.00" y="0">200</text><text x="24.88" y="0">000</text></g>
<g transform="translate(307.73 227.90) scale(0.975 1.030)"><text x="0.00" y="0">400</text><text x="24.88" y="0">000</text></g>
</g>
<g font-family="Liberation Sans, sans-serif" font-size="13.60" fill="#000" text-rendering="geometricPrecision">
<text transform="translate(223.5 249.6) scale(0.9 1)" text-anchor="middle" font-weight="bold" font-style="italic" font-size="14.3" stroke="#000" stroke-width="0.25">t</text>
<text transform="translate(12.2 101.2) rotate(-90)" font-size="13.2" stroke="#000" stroke-width="0.3">|</text>
<text transform="translate(12.0 112.3) rotate(-90) scale(1.38 1)" font-weight="bold" font-style="italic" stroke="#000" stroke-width="0.35">ζ</text>
<text transform="translate(12.2 116.5) rotate(-90)" font-size="13.2" stroke="#000" stroke-width="0.3">|</text>
</g>
</svg>
</body></html>
